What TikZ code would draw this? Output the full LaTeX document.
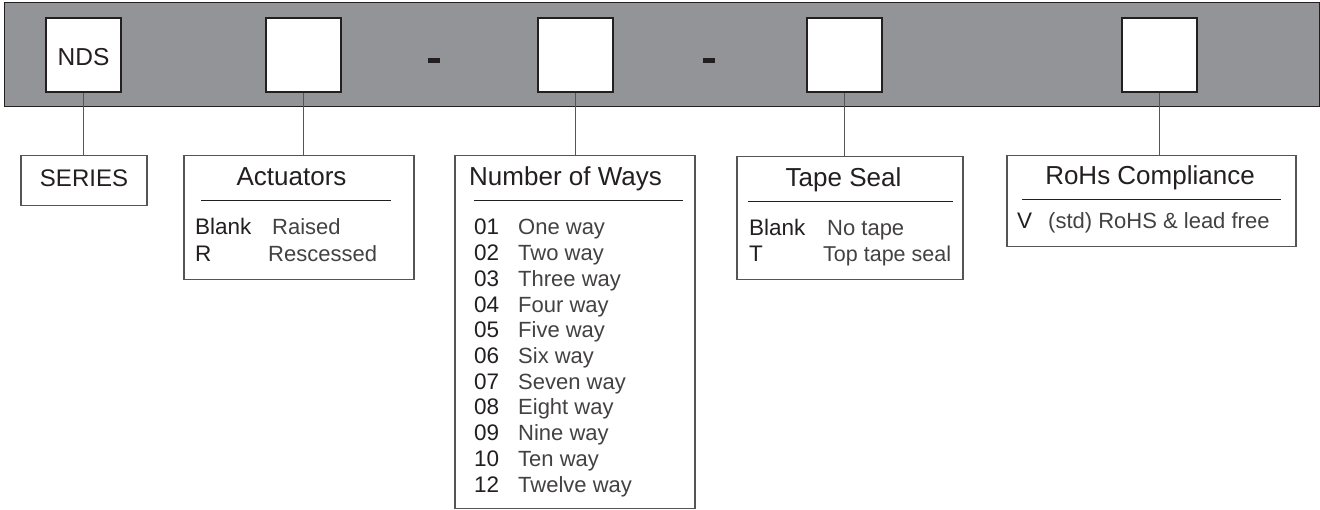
\documentclass[tikz,border=0pt]{standalone}
\usepackage{fontspec}
\setmainfont{Liberation Sans}
\definecolor{band}{HTML}{939498}
\definecolor{ink}{HTML}{231F20}
\definecolor{frame}{HTML}{555555}
\begin{document}
\begin{tikzpicture}[x=1pt,y=-1pt,
  sq/.style={draw=ink,line width=2.5pt,fill=white,minimum width=75pt,minimum height=74pt,inner sep=0pt},
  lbox/.style={draw=frame,line width=1.1pt,fill=white,inner sep=0pt},
  conn/.style={draw=frame,line width=1pt},
  rule/.style={draw=ink,line width=1pt},
  ttl/.style={text=ink,inner sep=0pt,anchor=base,font=\fontsize{26}{30}\selectfont},
  key/.style={text=ink,inner sep=0pt,anchor=base west,font=\fontsize{22.5}{26}\selectfont},
  desc/.style={text=ink!85,inner sep=0pt,anchor=base west,font=\fontsize{22}{26}\selectfont},
  dashmark/.style={fill=ink,minimum width=12pt,minimum height=5pt,inner sep=0pt}]
\useasboundingbox (0,0) rectangle (1320,510);
% band
\draw[fill=band,draw=ink,line width=1pt] (4,3) rectangle (1319,107);
% squares
\node[sq] (s1) at (83.5,55) {};
\node[sq] (s2) at (303.5,55) {};
\node[sq] (s3) at (575.5,55) {};
\node[sq] (s4) at (844.5,55) {};
\node[sq] (s5) at (1159.5,55) {};
\node[ttl,font=\fontsize{24.5}{28}\selectfont] (nds) at (83.5,66) {NDS};
\node[dashmark] (d1) at (434,61) {};
\node[dashmark] (d2) at (709,61) {};
% label boxes
\node[lbox,anchor=north,minimum width=126pt,minimum height=50pt] (ser) at (84,155) {};
\node[lbox,anchor=north,minimum width=230pt,minimum height=124pt] (act) at (299,155) {};
\node[lbox,anchor=north,minimum width=240pt,minimum height=353pt] (way) at (575,155) {};
\node[lbox,anchor=north,minimum width=226pt,minimum height=123pt] (tap) at (850,156) {};
\node[lbox,anchor=north,minimum width=289pt,minimum height=91pt] (roh) at (1151.5,155) {};
% connectors
\draw[conn] (s1.south) -- (s1.south |- ser.north);
\draw[conn] (s2.south) -- (s2.south |- act.north);
\draw[conn] (s3.south) -- (s3.south |- way.north);
\draw[conn] (s4.south) -- (s4.south |- tap.north);
\draw[conn] (s5.south) -- (s5.south |- roh.north);
% SERIES
\node[ttl,font=\fontsize{24}{28}\selectfont] (sert) at (84,187) {SERIES};
% Actuators
\node[ttl] (actt) at (291.5,186) {Actuators};
\coordinate (ar1) at (201,201); \coordinate (ar2) at (391,201);
\draw[rule] (ar1) -- (ar2);
\node[key] (ak1) at (195,235) {Blank};
\node[desc] (ad1) at (272,235) {Raised};
\node[key] (ak2) at (195,262) {R};
\node[desc] (ad2) at (268,262) {Rescessed};
% Number of Ways
\node[ttl,anchor=base west] (wayt) at (469,186) {Number of Ways};
\coordinate (wr1) at (474,201); \coordinate (wr2) at (683,201);
\draw[rule] (wr1) -- (wr2);
\foreach \n/\t [count=\i from 0] in {01/One way,02/Two way,03/Three way,04/Four way,05/Five way,06/Six way,07/Seven way,08/Eight way,09/Nine way,10/Ten way,12/Twelve way}{
  \node[key] (wk\i) at (474,235+25.7*\i) {\n};
  \node[desc] (wd\i) at (518,235+25.7*\i) {\t};
}
% Tape Seal
\node[ttl] (tapt) at (843.5,187) {Tape Seal};
\coordinate (tr1) at (748,202); \coordinate (tr2) at (953,202);
\draw[rule] (tr1) -- (tr2);
\node[key] (tk1) at (749,236) {Blank};
\node[desc] (td1) at (827,236) {No tape};
\node[key] (tk2) at (749,262) {T};
\node[desc,font=\fontsize{21.5}{26}\selectfont] (td2) at (823,262) {Top tape seal};
% RoHs
\node[ttl] (roht) at (1150,185) {RoHs Compliance};
\coordinate (rr1) at (1022,200); \coordinate (rr2) at (1281,200);
\draw[rule] (rr1) -- (rr2);
\node[key] (rk1) at (1017,229) {V};
\node[desc] (rd1) at (1048,229) {(std) RoHS \& lead free};
\end{tikzpicture}
\end{document}
